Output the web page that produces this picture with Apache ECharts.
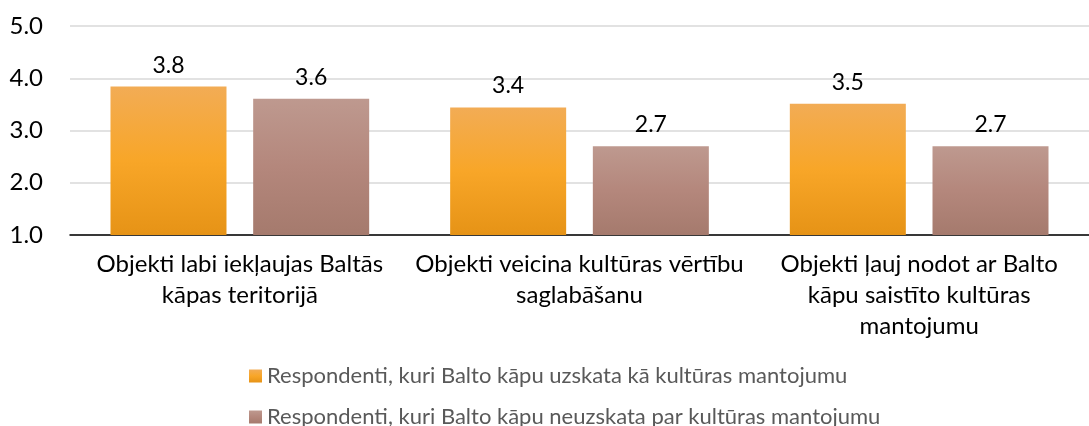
<!DOCTYPE html>
<html>
<head>
<meta charset="utf-8">
<script src="https://cdn.jsdelivr.net/npm/echarts@6/dist/echarts.min.js"></script>
<style>
  html, body { margin: 0; padding: 0; background: #fff; }
  #chart { width: 1089px; height: 426px; }
</style>
</head>
<body>
<div id="chart"></div>
<script>
// Categories (line breaks as shown under the axis)
const categories = [
  'Objekti labi iekļaujas Baltās\nkāpas teritorijā',
  'Objekti veicina kultūras vērtību\nsaglabāšanu',
  'Objekti ļauj nodot ar Balto\nkāpu saistīto kultūras\nmantojumu'
];
const seriesNames = [
  'Respondenti, kuri Balto kāpu uzskata kā kultūras mantojumu',
  'Respondenti, kuri Balto kāpu neuzskata par kultūras mantojumu'
];
// Mean scores
const heritageYes = [3.84, 3.44, 3.51];
const heritageNo = [3.61, 2.70, 2.70];
const yTicks = [1, 2, 3, 4, 5];

const FONT = 'Lato, "Open Sans", sans-serif';

function grad(top, mid, bottom) {
  return new echarts.graphic.LinearGradient(0, 0, 0, 1, [
    { offset: 0, color: top },
    { offset: 0.5, color: mid },
    { offset: 1, color: bottom }
  ]);
}

const orange = grad('#F2AC55', '#F8A628', '#E69316');
const brown = grad('#BE998F', '#B4877C', '#A57A6D');

const valueLabel = {
  show: true,
  position: 'top',
  distance: 10,
  color: '#000',
  fontSize: 23,
  fontFamily: FONT,
  formatter: p => p.value.toFixed(1)
};

// One legend block per series, stacked
function legendRow(name, top) {
  return {
    left: 244,
    top: top,
    itemWidth: 13,
    itemHeight: 13,
    icon: 'rect',
    textStyle: { color: '#595959', fontSize: 22, fontFamily: FONT },
    data: [name]
  };
}

const chart = echarts.init(document.getElementById('chart'), null, { renderer: 'canvas' });
chart.setOption({
  animation: false,
  grid: { left: 70, top: 26, width: 1032, height: 209, containLabel: false },
  legend: [legendRow(seriesNames[0], 360), legendRow(seriesNames[1], 401)],
  xAxis: {
    type: 'category',
    data: categories,
    axisTick: { show: false },
    axisLine: { lineStyle: { color: '#000', width: 1.5 } },
    axisLabel: {
      color: '#000',
      fontSize: 24,
      fontFamily: FONT,
      lineHeight: 31,
      margin: 14,
      interval: 0
    }
  },
  yAxis: {
    type: 'value',
    min: yTicks[0],
    max: yTicks[yTicks.length - 1],
    interval: 1,
    axisLine: { show: false },
    axisTick: { show: false },
    splitLine: { lineStyle: { color: '#D9D9D9', width: 1.5 } },
    axisLabel: {
      color: '#000',
      fontSize: 24,
      fontFamily: FONT,
      margin: 27,
      formatter: v => v.toFixed(1)
    }
  },
  series: [
    {
      name: seriesNames[0],
      type: 'bar',
      data: heritageYes,
      barWidth: 116,
      barGap: '23%',
      itemStyle: { color: orange },
      label: valueLabel
    },
    {
      name: seriesNames[1],
      type: 'bar',
      data: heritageNo,
      barWidth: 116,
      barGap: '23%',
      itemStyle: { color: brown },
      label: valueLabel
    }
  ]
});
</script>
</body>
</html>
